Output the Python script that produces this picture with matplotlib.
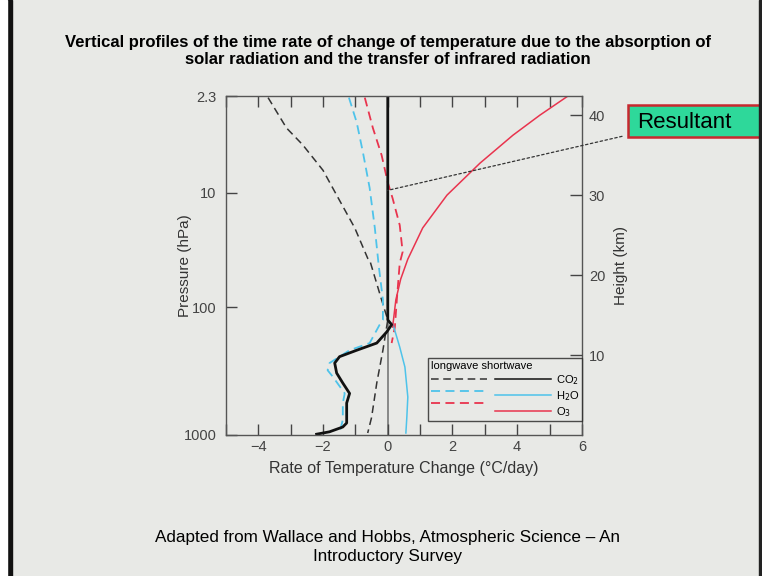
import matplotlib.pyplot as plt
from matplotlib.lines import Line2D
from matplotlib.patches import Rectangle
import numpy as np

plt.rcParams['font.family'] = ['Liberation Sans', 'DejaVu Sans']

# heights in km, rates in degC/day
co2_lw_x = [-3.7, -3.13, -2.63, -2.0, -1.58, -1.02, -0.62, -0.56, -0.19, 0.0, -0.15, -0.34, -0.5, -0.62]
co2_lw_h = [42.2, 38.4, 36.3, 33.1, 30.0, 25.9, 22.1, 21.9, 16.9, 14.4, 10.6, 6.5, 2.2, 0.25]

h2o_lw_x = [-1.2, -0.96, -0.77, -0.56, -0.40, -0.28, -0.15, -0.15, -0.25, -0.56, -1.18, -1.8, -1.86, -1.7, -1.33, -1.39, -1.39, -1.49]
h2o_lw_h = [42.2, 39.1, 35.4, 30.9, 25.9, 21.2, 16.9, 14.4, 13.8, 11.5, 10.6, 9.0, 8.1, 7.3, 5.2, 4.0, 1.9, 0.25]

o3_lw_x = [-0.71, -0.46, -0.19, 0.0, 0.15, 0.37, 0.46, 0.37, 0.28, 0.22, 0.12]
o3_lw_h = [42.2, 38.4, 35.0, 31.6, 29.6, 26.25, 22.9, 21.5, 16.9, 13.5, 11.5]

net_x = [0.0, 0.0, 0.12, -0.03, -0.34, -0.96, -1.49, -1.64, -1.58, -1.39, -1.18, -1.27, -1.27, -1.39, -1.8, -2.2]
net_h = [42.4, 14.4, 13.8, 12.9, 11.5, 10.6, 9.8, 9.0, 7.75, 6.5, 5.2, 4.0, 1.5, 1.0, 0.4, 0.1]

h2o_sw_x = [0.15, 0.37, 0.53, 0.62, 0.59, 0.56]
h2o_sw_h = [14.0, 11.0, 8.5, 4.75, 2.25, 0.25]

o3_sw_x = [5.57, 4.7, 3.87, 2.85, 1.83, 1.08, 0.62, 0.4, 0.25, 0.15]
o3_sw_h = [42.4, 40.0, 37.5, 34.0, 30.0, 25.9, 22.0, 19.5, 16.9, 13.5]

# resultant is read at 10 hPa
result_pt = (0.0, 30.6)

p_labels = ['1000', '100', '10', '2.3']
p_heights = [0.0, 16.0, 30.3, 42.4]
km_ticks = [10, 20, 30, 40]

bg = '#e8e9e6'
fig = plt.figure(figsize=(7.62, 5.76), dpi=100, facecolor=bg)
ax = fig.add_axes([0.2966, 0.2448, 0.467, 0.5885])
ax.set_facecolor(bg)

blue = '#4ec3ea'
red = '#e8344e'
dash = (0, (5, 3))
ax.axvline(0, color='#777777', lw=1.2, zorder=1)
ax.plot(co2_lw_x, co2_lw_h, color='#333333', ls=dash, lw=1.1)
ax.plot(h2o_lw_x, h2o_lw_h, color=blue, ls=dash, lw=1.3)
ax.plot(o3_lw_x, o3_lw_h, color=red, ls=dash, lw=1.3)
ax.plot(h2o_sw_x, h2o_sw_h, color=blue, lw=1.1)
ax.plot(o3_sw_x, o3_sw_h, color=red, lw=1.1)
ax.plot(net_x, net_h, color='#111111', lw=2.0)

ax.set_xlim(-5, 6)
ax.set_ylim(0, 42.4)
ax.set_xticks(np.arange(-5, 7, 1))
ax.set_xticklabels(['' if v % 2 else ('\u2212' + str(-v) if v < 0 else str(v)) for v in range(-5, 7)])
ax.set_yticks(p_heights)
ax.set_yticklabels(p_labels)
ax.tick_params(direction='in', length=8, width=1, colors='#444444', labelsize=10.5,
               top=True, labeltop=False)
ax.tick_params(axis='y', pad=7)
for s in ax.spines.values():
    s.set_color('#555555')
    s.set_linewidth(1.0)

ax2 = ax.twinx()
ax2.set_ylim(0, 42.4)
ax2.set_yticks(km_ticks)
ax2.tick_params(direction='in', length=9, width=1, colors='#444444', labelsize=10.5, pad=5)
for s in ax2.spines.values():
    s.set_visible(False)

ax.set_ylabel('Pressure (hPa)', fontsize=11, color='#333333', labelpad=-6)
ax2.set_ylabel('Height (km)', fontsize=11, color='#333333', labelpad=6)
ax.set_xlabel('Rate of Temperature Change (\u00b0C/day)', fontsize=11.5, color='#333333', labelpad=5)

handles = [Line2D([], [], color='#333333', ls=dash, lw=1.1),
           Line2D([], [], color=blue, ls=dash, lw=1.3),
           Line2D([], [], color=red, ls=dash, lw=1.3),
           Line2D([], [], color='#111111', lw=1.1),
           Line2D([], [], color=blue, lw=1.1),
           Line2D([], [], color=red, lw=1.1)]
labels = ['', '', '', 'CO$_2$', 'H$_2$O', 'O$_3$']
leg = ax.legend(handles, labels, ncol=2, loc='lower right', bbox_to_anchor=(1.0, 0.04),
                title='longwave shortwave', alignment='left', fontsize=8, title_fontsize=8,
                handlelength=5.0, handletextpad=0.45, columnspacing=0.3, labelspacing=0.2,
                borderpad=0.25, borderaxespad=0.0, frameon=True, fancybox=False, edgecolor='#222222')
leg.get_frame().set_facecolor(bg)
leg.get_frame().set_linewidth(1.0)

# resultant callout
fig.add_artist(Rectangle((628 / 762, 1 - 137 / 576), 134 / 762, 32 / 576, transform=fig.transFigure,
                         fc='#2ed89a', ec='#c8282f', lw=1.8, zorder=-1))
ax.annotate('Resultant', xy=result_pt, xycoords='data',
            xytext=(637 / 762, 1 - 122 / 576), textcoords='figure fraction', fontsize=16,
            va='center', ha='left', zorder=10,
            arrowprops=dict(arrowstyle='-', ls=(0, (2, 2)), color='#333333', lw=0.9,
                            shrinkA=9, shrinkB=0))

fig.text(0.509, 0.911, 'Vertical profiles of the time rate of change of temperature due to the absorption of\n'
         'solar radiation and the transfer of infrared radiation', ha='center', va='center',
         fontsize=12, fontweight='bold', linespacing=1.2)
fig.text(0.508, 0.050, 'Adapted from Wallace and Hobbs, Atmospheric Science \u2013 An\nIntroductory Survey',
         ha='center', va='center', fontsize=12.3, linespacing=1.3)

fig.add_artist(Rectangle((0.009, 0), 0.007, 1, transform=fig.transFigure, color='#111111'))
fig.add_artist(Rectangle((0, 0), 0.009, 1, transform=fig.transFigure, color='white'))
fig.add_artist(Rectangle((0.996, 0), 0.004, 1, transform=fig.transFigure, color='#222222'))

fig.savefig('out.png', dpi=100, facecolor=bg)
